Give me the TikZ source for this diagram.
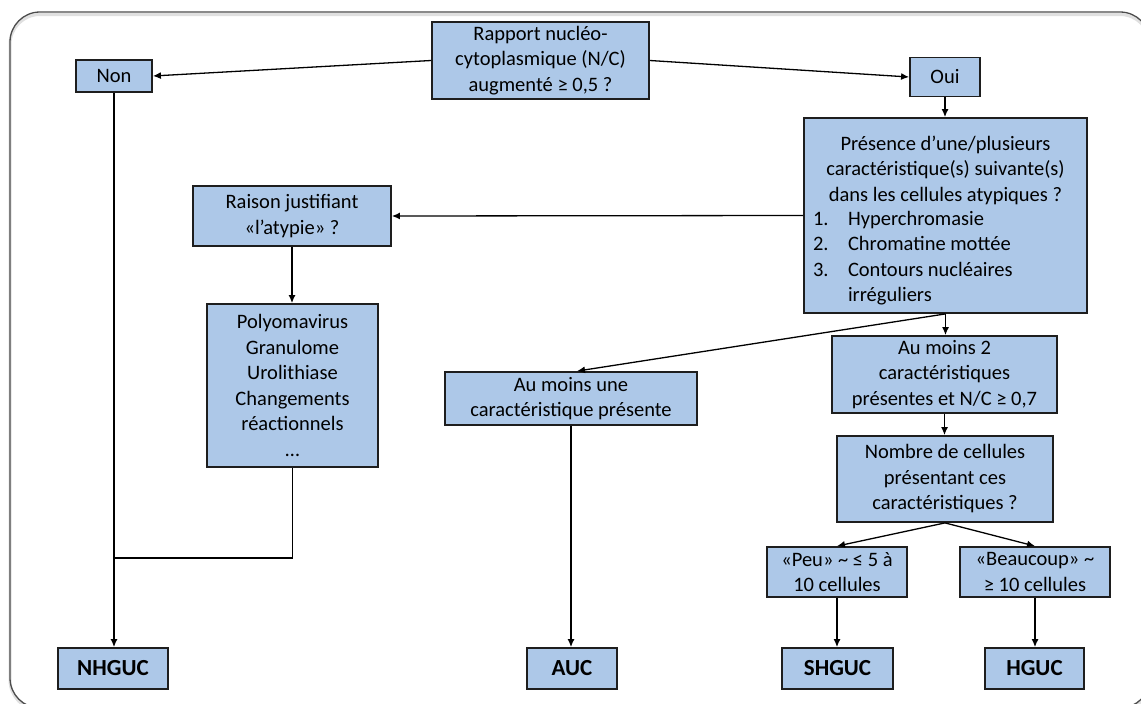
\documentclass[tikz,border=0pt]{standalone}
\usepackage{fontspec}
\setmainfont{Carlito}
\usetikzlibrary{arrows.meta}
\definecolor{boxblue}{RGB}{173,200,232}
\definecolor{boxline}{RGB}{30,30,30}
\tikzset{
  box/.style={draw=boxline, fill=boxblue, line width=1.8pt, inner sep=0pt, align=center,
    font=\fontsize{20.5}{25.5}\selectfont},
  endbox/.style={box, font=\fontsize{23}{25}\selectfont\bfseries, minimum height=41pt},
  arr/.style={line width=1.3pt, -{Latex[length=8pt,width=7pt]}},
  conn/.style={line width=1.3pt}
}
\begin{document}
\begin{tikzpicture}[x=1pt,y=-1pt]
\useasboundingbox (0,0) rectangle (1141,704);
\begin{scope}
\clip (0,0) rectangle (1141,704);
\draw[black!12, line width=3pt, rounded corners=30pt] (10,14.5) rectangle (1150,710);
\draw[black!70, line width=1.3pt, rounded corners=30pt] (10,12) rectangle (1150,708);
\end{scope}

\node[box, minimum width=217pt, minimum height=77pt] (rap) at (540.5,60.5)
  {Rapport nucléo-\\cytoplasmique (N/C)\\augmenté ≥ 0,5 ?};
\node[box, minimum width=76pt, minimum height=32pt] (non) at (114,76) {Non};
\node[box, minimum width=70pt, minimum height=39pt] (oui) at (945,77) {Oui};
\node[box, minimum width=283pt, minimum height=195pt] (pres) at (945.5,215.5)
  {\begin{minipage}{265pt}\vspace*{14pt}\centering
   Présence d’une/plusieurs\\caractéristique(s) suivante(s)\\dans les cellules atypiques ?\par
   \vspace{2pt}\raggedright
   \begin{tabular}{@{}p{35pt}@{}l@{}}
   1. & Hyperchromasie\\
   2. & Chromatine mottée\\
   3. & Contours nucléaires\\
      & irréguliers
   \end{tabular}\end{minipage}};
\node[box, minimum width=198pt, minimum height=60pt] (rai) at (292,216)
  {Raison justifiant\\«l’atypie» ?};
\node[box, minimum width=171pt, minimum height=163pt] (pol) at (292.5,385.5)
  {Polyomavirus\\Granulome\\Urolithiase\\Changements\\réactionnels\\…};
\node[box, minimum width=252pt, minimum height=53pt] (une) at (571,398.5)
  {Au moins une\\caractéristique présente};
\node[box, minimum width=225pt, minimum height=77pt] (deux) at (944.5,374.5)
  {Au moins 2\\caractéristiques\\présentes et N/C ≥ 0,7};
\node[box, minimum width=216pt, minimum height=86pt] (nomb) at (945,479)
  {Nombre de cellules\\présentant ces\\caractéristiques ?};
\node[box, minimum width=140pt, minimum height=50pt] (peu) at (837,572)
  {«Peu» \char`\~\ ≤ 5 à\\10 cellules};
\node[box, minimum width=150pt, minimum height=50pt] (beau) at (1035,572)
  {«Beaucoup» \char`\~\\≥ 10 cellules};
\node[endbox, minimum width=110pt] (nhg) at (113,668.5) {NHGUC};
\node[endbox, minimum width=90pt] (auc) at (572,668.5) {AUC};
\node[endbox, minimum width=111pt] (shg) at (837.5,668.5) {SHGUC};
\node[endbox, minimum width=99pt] (hg) at (1034.5,668.5) {HGUC};

\coordinate (j) at (114,558);

\draw[arr] (rap.west) -- (non.east);
\draw[arr] (rap.east) -- (oui.west);
\draw[arr] (oui.south) -- (oui.south |- pres.north);
\draw[arr] (pres.west) -- (rai.east);
\draw[arr] (rai.south) -- (rai.south |- pol.north);
\draw[arr] (pres.south) -- ([xshift=6pt]une.north);
\draw[arr] (pres.south) -- (pres.south |- deux.north);
\draw[arr] (deux.south) -- (deux.south |- nomb.north);
\draw[arr] (nomb.south) -- (peu.north);
\draw[arr] (nomb.south) -- (beau.north);
\draw[arr] (peu.south) -- (peu.south |- shg.north);
\draw[arr] (beau.south) -- (beau.south |- hg.north);
\draw[arr] (une.south) -- (une.south |- auc.north);
\draw[arr] (non.south) -- (non.south |- nhg.north);
\draw[conn] (pol.south) |- (j);
\end{tikzpicture}
\end{document}
